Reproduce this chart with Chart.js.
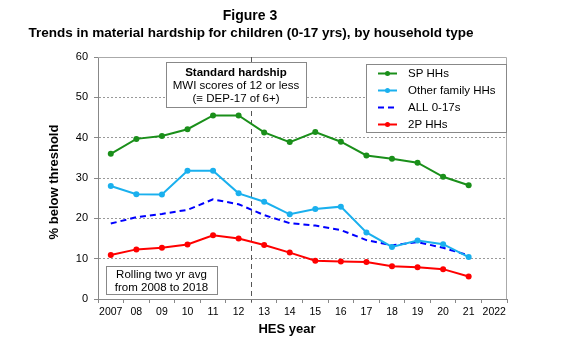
<!DOCTYPE html>
<html>
<head>
<meta charset="utf-8">
<script src="https://cdn.jsdelivr.net/npm/chart.js@4/dist/chart.umd.min.js"></script>
<style>
  html, body { margin: 0; padding: 0; background: #fff; }
  #chart { display: block; }
</style>
</head>
<body>
<canvas id="chart" width="580" height="348"></canvas>
<script>
// HES years (rolling two yr avg)
const years = ['2007', '08', '09', '10', '11', '12', '13', '14', '15', '16', '17', '18', '19', '20', '21', '2022'];
const spHHs = [36.0, 39.7, 40.4, 42.1, 45.5, 45.5, 41.3, 38.9, 41.4, 39.0, 35.6, 34.8, 33.8, 30.3, 28.2, null];
const otherFamilyHHs = [28.0, 26.0, 25.9, 31.8, 31.8, 26.2, 24.1, 21.0, 22.3, 22.9, 16.5, 12.9, 14.5, 13.6, 10.4, null];
const all017s = [18.7, 20.3, 21.1, 22.1, 24.7, 23.5, 20.8, 18.8, 18.2, 17.1, 14.6, 13.3, 14.1, 12.7, 10.8, null];
const twoPHHs = [10.9, 12.3, 12.7, 13.5, 15.8, 15.0, 13.4, 11.5, 9.5, 9.3, 9.2, 8.1, 7.9, 7.4, 5.6, null];
const yTicks = [0, 10, 20, 30, 40, 50, 60];

const FONT = '"Liberation Sans", Arial, sans-serif';
const GREEN = '#1a8f1a';
const CYAN = '#1ab0ee';
const BLUE = '#0000ff';
const RED = '#ff0000';

function textBox(ctx, x1, y1, x2, y2, lines) {
    ctx.save();
    ctx.fillStyle = '#fff';
    ctx.fillRect(x1, y1, x2 - x1, y2 - y1);
    ctx.strokeStyle = '#888';
    ctx.lineWidth = 1;
    ctx.strokeRect(x1 + 0.5, y1 + 0.5, x2 - x1, y2 - y1);
    ctx.fillStyle = '#000';
    ctx.textAlign = 'center';
    ctx.textBaseline = 'middle';
    let cx = (x1 + x2) / 2;
    lines.forEach(l => {
        ctx.font = (l.bold ? 'bold ' : '') + '11.5px ' + FONT;
        ctx.fillText(l.text, cx, l.y);
    });
    ctx.restore();
}

const decorPlugin = {
    id: 'decor',
    beforeDatasetsDraw(chart) {
        const {ctx, chartArea: a, scales: {x}} = chart;
        ctx.save();
        // frame top / right
        ctx.strokeStyle = '#aaa';
        ctx.lineWidth = 1;
        ctx.beginPath();
        ctx.moveTo(a.left, a.top + 0.5);
        ctx.lineTo(a.right - 0.5, a.top + 0.5);
        ctx.lineTo(a.right - 0.5, a.bottom);
        ctx.stroke();
        // break between 2012 and 2013
        let bx = Math.round((x.getPixelForValue(5) + x.getPixelForValue(6)) / 2) + 0.5;
        ctx.strokeStyle = '#555';
        ctx.setLineDash([5, 4]);
        ctx.beginPath();
        ctx.moveTo(bx, a.top);
        ctx.lineTo(bx, a.bottom + 3);
        ctx.stroke();
        ctx.restore();
    },
    afterDatasetsDraw(chart) {
        const {ctx} = chart;
        ctx.save();
        // titles
        ctx.fillStyle = '#000';
        ctx.textAlign = 'center';
        ctx.textBaseline = 'middle';
        ctx.font = 'bold 14px ' + FONT;
        ctx.fillText('Figure 3', 250, 16);
        ctx.font = 'bold 13.5px ' + FONT;
        ctx.fillText('Trends in material hardship for children (0-17 yrs), by household type', 251, 33);
        ctx.font = 'bold 13px ' + FONT;
        ctx.fillText('HES year', 287, 329);
        ctx.save();
        ctx.translate(54, 182);
        ctx.rotate(-Math.PI / 2);
        ctx.fillText('% below threshold', 0, 0);
        ctx.restore();

        textBox(ctx, 166, 62, 306, 107, [
            {text: 'Standard hardship', bold: true, y: 73},
            {text: 'MWI scores of 12 or less', y: 85.5},
            {text: '(\u2261 DEP-17 of 6+)', y: 99}
        ]);
        textBox(ctx, 106, 266, 217, 294, [
            {text: 'Rolling two yr avg', y: 275},
            {text: 'from 2008 to 2018', y: 287.5}
        ]);

        // legend
        ctx.fillStyle = '#fff';
        ctx.fillRect(366, 64, 141, 68);
        ctx.strokeStyle = '#888';
        ctx.lineWidth = 1;
        ctx.strokeRect(366.5, 64.5, 140, 68);
        chart.data.datasets.forEach((ds, i) => {
            let y = 73.5 + i * 17;
            ctx.strokeStyle = ds.borderColor;
            ctx.lineWidth = 2;
            ctx.setLineDash(ds.borderDash || []);
            ctx.beginPath();
            ctx.moveTo(378, y);
            ctx.lineTo(397, y);
            ctx.stroke();
            ctx.setLineDash([]);
            if (ds.pointRadius > 0) {
                ctx.fillStyle = ds.borderColor;
                ctx.beginPath();
                ctx.arc(387.5, y, 2.5, 0, Math.PI * 2);
                ctx.fill();
            }
            ctx.fillStyle = '#000';
            ctx.textAlign = 'left';
            ctx.font = '11.5px ' + FONT;
            ctx.fillText(ds.label, 408, y);
        });
        ctx.restore();
    }
};

function makeSeries(label, data, color, dashed) {
    return {
        label: label,
        data: data,
        borderColor: color,
        backgroundColor: color,
        borderWidth: 2,
        borderDash: dashed ? [6, 4] : [],
        pointRadius: dashed ? 0 : 3,
        pointHoverRadius: 0,
        pointBorderWidth: 0,
        tension: 0,
        spanGaps: false
    };
}

const ctx = document.getElementById('chart').getContext('2d');
const chart = new Chart(ctx, {
    type: 'line',
    data: {
        labels: years,
        datasets: [
            makeSeries('SP HHs', spHHs, GREEN, false),
            makeSeries('Other family HHs', otherFamilyHHs, CYAN, false),
            makeSeries('ALL 0-17s', all017s, BLUE, true),
            makeSeries('2P HHs', twoPHHs, RED, false)
        ]
    },
    options: {
        responsive: false,
        animation: false,
        devicePixelRatio: 1,
        layout: {
            padding: {top: 57, right: 73, left: 0, bottom: 0}
        },
        plugins: {
            legend: {display: false},
            title: {display: false},
            tooltip: {enabled: false}
        },
        scales: {
            x: {
                offset: true,
                grid: {
                    offset: true,
                    drawOnChartArea: false,
                    tickLength: 4,
                    color: '#888'
                },
                border: {color: '#888'},
                ticks: {
                    color: '#000',
                    font: {family: FONT, size: 10.5},
                    padding: 3,
                    maxRotation: 0,
                    autoSkip: false
                },
                afterFit(scale) {
                    scale.height = 49;
                }
            },
            y: {
                min: 0,
                max: 60,
                afterBuildTicks(scale) {
                    scale.ticks = yTicks.map(v => ({value: v}));
                },
                grid: {
                    color: '#999',
                    tickLength: 4,
                    tickColor: '#888',
                    tickBorderDash: []
                },
                border: {color: '#888', dash: [2, 2]},
                ticks: {
                    color: '#000',
                    font: {family: FONT, size: 11},
                    padding: 6
                },
                afterFit(scale) {
                    scale.width = 98;
                }
            }
        }
    },
    plugins: [decorPlugin]
});
</script>
</body>
</html>
